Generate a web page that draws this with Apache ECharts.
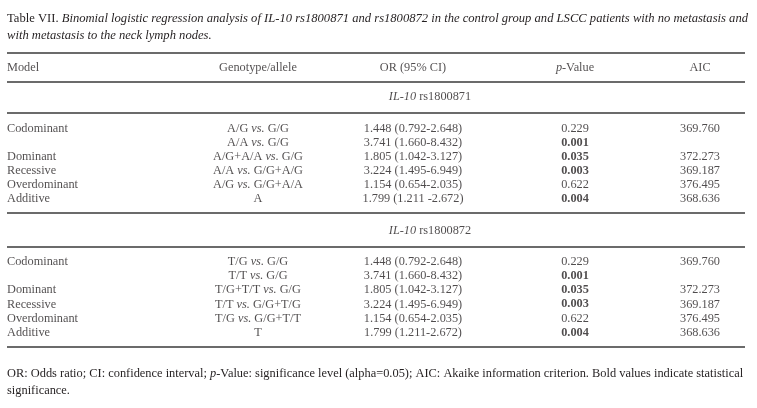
<!DOCTYPE html>
<html><head><meta charset="utf-8">
<script src="https://cdn.jsdelivr.net/npm/echarts@6.0.0/dist/echarts.min.js"></script>
<style>html,body{margin:0;padding:0;background:#fff}#c{width:757px;height:408px}</style>
</head><body><div id="c"></div>
<script>
// ---- data ----
const headers = ['Model', 'Genotype/allele', 'OR (95% CI)', '{i|p}-Value', 'AIC'];
const sections = ['IL-10 rs1800871', 'IL-10 rs1800872'];
const models = ['Codominant', '', 'Dominant', 'Recessive', 'Overdominant', 'Additive'];
const genotypes1 = ['A/G vs. G/G', 'A/A vs. G/G', 'A/G+A/A vs. G/G', 'A/A vs. G/G+A/G', 'A/G vs. G/G+A/A', 'A'];
const genotypes2 = ['T/G vs. G/G', 'T/T vs. G/G', 'T/G+T/T vs. G/G', 'T/T vs. G/G+T/G', 'T/G vs. G/G+T/T', 'T'];
const or1 = ['1.448 (0.792-2.648)', '3.741 (1.660-8.432)', '1.805 (1.042-3.127)', '3.224 (1.495-6.949)', '1.154 (0.654-2.035)', '1.799 (1.211 -2.672)'];
const or2 = ['1.448 (0.792-2.648)', '3.741 (1.660-8.432)', '1.805 (1.042-3.127)', '3.224 (1.495-6.949)', '1.154 (0.654-2.035)', '1.799 (1.211-2.672)'];
const pValues1 = ['0.229', '0.001', '0.035', '0.003', '0.622', '0.004'];
const pValues2 = ['0.229', '0.001', '0.035', '0.003', '0.622', '0.004'];
const significant1 = [false, true, true, true, false, true];
const significant2 = [false, true, true, true, false, true];
const aic1 = ['369.760', '', '372.273', '369.187', '376.495', '368.636'];
const aic2 = ['369.760', '', '372.273', '369.187', '376.495', '368.636'];
const titleText = '{n|Table VII. }{i|Binomial logistic regression analysis of IL-10 rs1800871 and rs1800872 in the control group and LSCC patients with no metastasis and}\n{i|with metastasis to the neck lymph nodes.}';
const footText = 'OR: Odds ratio; CI: confidence interval; {i|p}-Value: significance level (alpha=0.05); AIC: Akaike information criterion. Bold values indicate statistical\nsignificance.';

// ---- layout (pixel units on the hidden value axes) ----
const FONT = 'Liberation Serif';
const FS = 12.3;
const TFS = 12.6;
const NFS = 12.4;
const TXT = '#231f20';
const colX = [7, 258, 413, 575, 700];
const colAlign = ['left', 'center', 'center', 'center', 'center'];
const sectionX = 430;
const headerY = 67.5;
const sectionY = [97, 230.5];
const firstRowY = [128.5, 262];
const rowStep = 14.1;
const rulesY = [53, 82, 113, 213, 247, 347];
const ruleX = [7, 745];

function italVs(s) { return s.replace(' vs. ', ' {i|vs.} '); }
function italGene(s) { return s.replace('IL-10', '{i|IL-10}'); }

const cells = [];
function addCell(x, y, text, align, bold) {
  cells.push({
    value: [x, y],
    label: { formatter: text, align: align, fontWeight: bold ? 'bold' : 'normal' }
  });
}
headers.forEach((h, c) => addCell(colX[c], headerY, h, colAlign[c], false));
sections.forEach((s, k) => addCell(sectionX, sectionY[k], italGene(s), 'center', false));
const blocks = [
  [genotypes1, or1, pValues1, significant1, aic1],
  [genotypes2, or2, pValues2, significant2, aic2]
];
blocks.forEach((b, k) => {
  models.forEach((m, r) => {
    const y = firstRowY[k] + r * rowStep;
    addCell(colX[0], y, m, 'left', false);
    addCell(colX[1], y, italVs(b[0][r]), 'center', false);
    addCell(colX[2], y, b[1][r], 'center', false);
    addCell(colX[3], y, b[2][r], 'center', b[3][r]);
    addCell(colX[4], y, b[4][r], 'center', false);
  });
});

const rich = {
  n: { fontFamily: FONT, fontSize: FS, color: TXT },
  i: { fontFamily: FONT, fontSize: FS, color: TXT, fontStyle: 'italic' }
};

const series = [{
  type: 'scatter',
  symbolSize: 0,
  silent: true,
  data: cells,
  label: {
    show: true, position: 'inside', fontFamily: FONT, fontSize: FS, color: TXT,
    verticalAlign: 'middle', rich: rich
  }
}];
rulesY.forEach(y => series.push({
  type: 'line', symbol: 'none', silent: true,
  lineStyle: { color: '#3a3a3a', width: 1.4 },
  data: [[ruleX[0], y], [ruleX[1], y]]
}));

const chart = echarts.init(document.getElementById('c'), null, { renderer: 'canvas' });
chart.setOption({
  animation: false,
  backgroundColor: '#fff',
  grid: { left: 0, right: 0, top: 0, bottom: 0 },
  xAxis: { type: 'value', min: 0, max: 757, show: false },
  yAxis: { type: 'value', min: 0, max: 408, inverse: true, show: false },
  graphic: [
    { type: 'text', left: 7, top: 10, style: { text: titleText, fontFamily: FONT, fontSize: TFS, fill: TXT, lineHeight: 17,
      rich: { n: { fontFamily: FONT, fontSize: TFS, fill: TXT, lineHeight: 17 }, i: { fontFamily: FONT, fontSize: TFS, fill: TXT, fontStyle: 'italic', lineHeight: 17 } } } },
    { type: 'text', left: 7, top: 365, style: { text: footText, fontFamily: FONT, fontSize: NFS, fill: TXT, lineHeight: 17,
      rich: { i: { fontFamily: FONT, fontSize: NFS, fill: TXT, fontStyle: 'italic', lineHeight: 17 } } } }
  ],
  series: series
});
</script>
</body></html>
